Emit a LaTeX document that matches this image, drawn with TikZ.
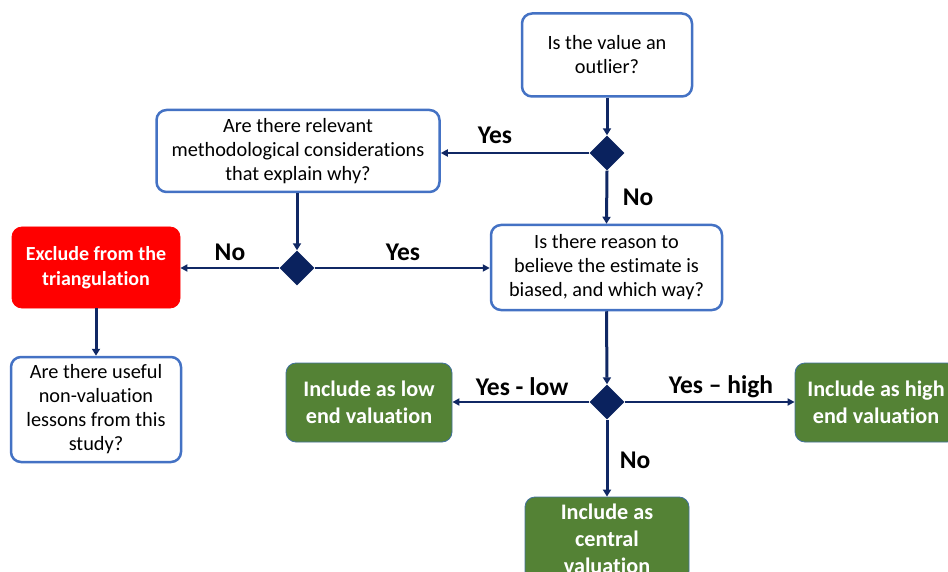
\documentclass[tikz,border=0pt]{standalone}
\usepackage{fontspec}
\setmainfont{Carlito}[Ligatures=NoCommon]
\usetikzlibrary{shapes.geometric,arrows.meta}

\definecolor{navy}{RGB}{16,40,100}
\definecolor{diafill}{RGB}{10,34,94}
\definecolor{boxblue}{RGB}{68,114,196}
\definecolor{okgreen}{RGB}{84,130,53}
\definecolor{exred}{RGB}{255,0,0}
\definecolor{edgeblue}{RGB}{65,113,156}

\tikzset{
  question/.style={draw=boxblue, line width=2.5pt, fill=white, rounded corners=10pt,
    align=center, inner sep=0pt, font=\fontsize{20.3}{24}\selectfont},
  outcome/.style={draw=edgeblue, line width=0.8pt, fill=okgreen, rounded corners=10pt,
    align=center, inner sep=0pt, text=white, font=\bfseries\fontsize{22.2}{27}\selectfont},
  excluded/.style={draw=exred, line width=0.8pt, fill=exred, rounded corners=10pt,
    align=center, inner sep=0pt, text=white, font=\bfseries\fontsize{20}{25}\selectfont},
  decision/.style={diamond, aspect=1, fill=diafill, draw=none, inner sep=0pt,
    minimum width=35pt, minimum height=35pt},
  flowv/.style={draw=navy, line width=3pt, -{Triangle[length=7pt,width=8pt]}},
  flowh/.style={draw=navy, line width=2pt, -{Triangle[length=7pt,width=7pt]}},
  answer/.style={font=\bfseries\fontsize{25.5}{28}\selectfont, inner sep=0pt}
}

\begin{document}
\begin{tikzpicture}[x=1pt,y=-1pt]
  \useasboundingbox (0,0) rectangle (948,572);

  % question boxes
  \node[question, minimum width=170pt, minimum height=83pt] (outlier) at (607,55)
    {Is the value an\\outlier?};
  \node[question, minimum width=283pt, minimum height=82pt] (method) at (298,151)
    {Are there relevant\\methodological considerations\\that explain why?};
  \node[question, minimum width=231pt, minimum height=85pt] (reason) at (606.5,267.5)
    {Is there reason to\\believe the estimate is\\biased, and which way?};
  \node[question, minimum width=170pt, minimum height=105pt] (lessons) at (96,409.5)
    {Are there useful\\non-valuation\\lessons from this\\study?};

  % outcome boxes
  \node[excluded, minimum width=168pt, minimum height=81pt] (exclude) at (96,267.5)
    {Exclude from the\\triangulation};
  \node[outcome, minimum width=166pt, minimum height=79pt] (low) at (369,402.5)
    {Include as low\\end valuation};
  \node[outcome, minimum width=162pt, minimum height=79pt] (high) at (876,402.5)
    {Include as high\\end valuation};
  \node[outcome, minimum width=164pt, minimum height=84pt] (central) at (607,539)
    {Include as\\central\\valuation};

  % decision points
  \node[decision] (d1) at (607,153) {};
  \node[decision] (d2) at (297,268) {};
  \node[decision] (d3) at (607,402) {};

  % connectors
  \draw[flowv] (outlier.south) -- (d1.north);
  \draw[flowh] (d1.west) -- (d1.west -| method.east);
  \draw[flowv] (d1.south) -- (reason.north);
  \draw[flowv] (method.south -| d2.north) -- (d2.north);
  \draw[flowh] (d2.west) -- (exclude.east |- d2.west);
  \draw[flowh] (d2.east) -- (reason.west |- d2.east);
  \draw[flowv] (exclude.south) -- (lessons.north);
  \draw[flowv] (reason.south) -- (d3.north);
  \draw[flowh] (d3.west) -- (low.east |- d3.west);
  \draw[flowh] (d3.east) -- (high.west |- d3.east);
  \draw[flowv] (d3.south) -- (central.north);

  % branch labels
  \node[answer] (yes1) at (495,135) {Yes};
  \node[answer] (no1)  at (638,197) {No};
  \node[answer] (no2)  at (230,252) {No};
  \node[answer] (yes2) at (403,252) {Yes};
  \node[answer] (ylow) at (522,387) {Yes - low};
  \node[answer] (yhigh) at (721,387) {Yes – high};
  \node[answer] (no3)  at (635,460) {No};
\end{tikzpicture}
\end{document}
